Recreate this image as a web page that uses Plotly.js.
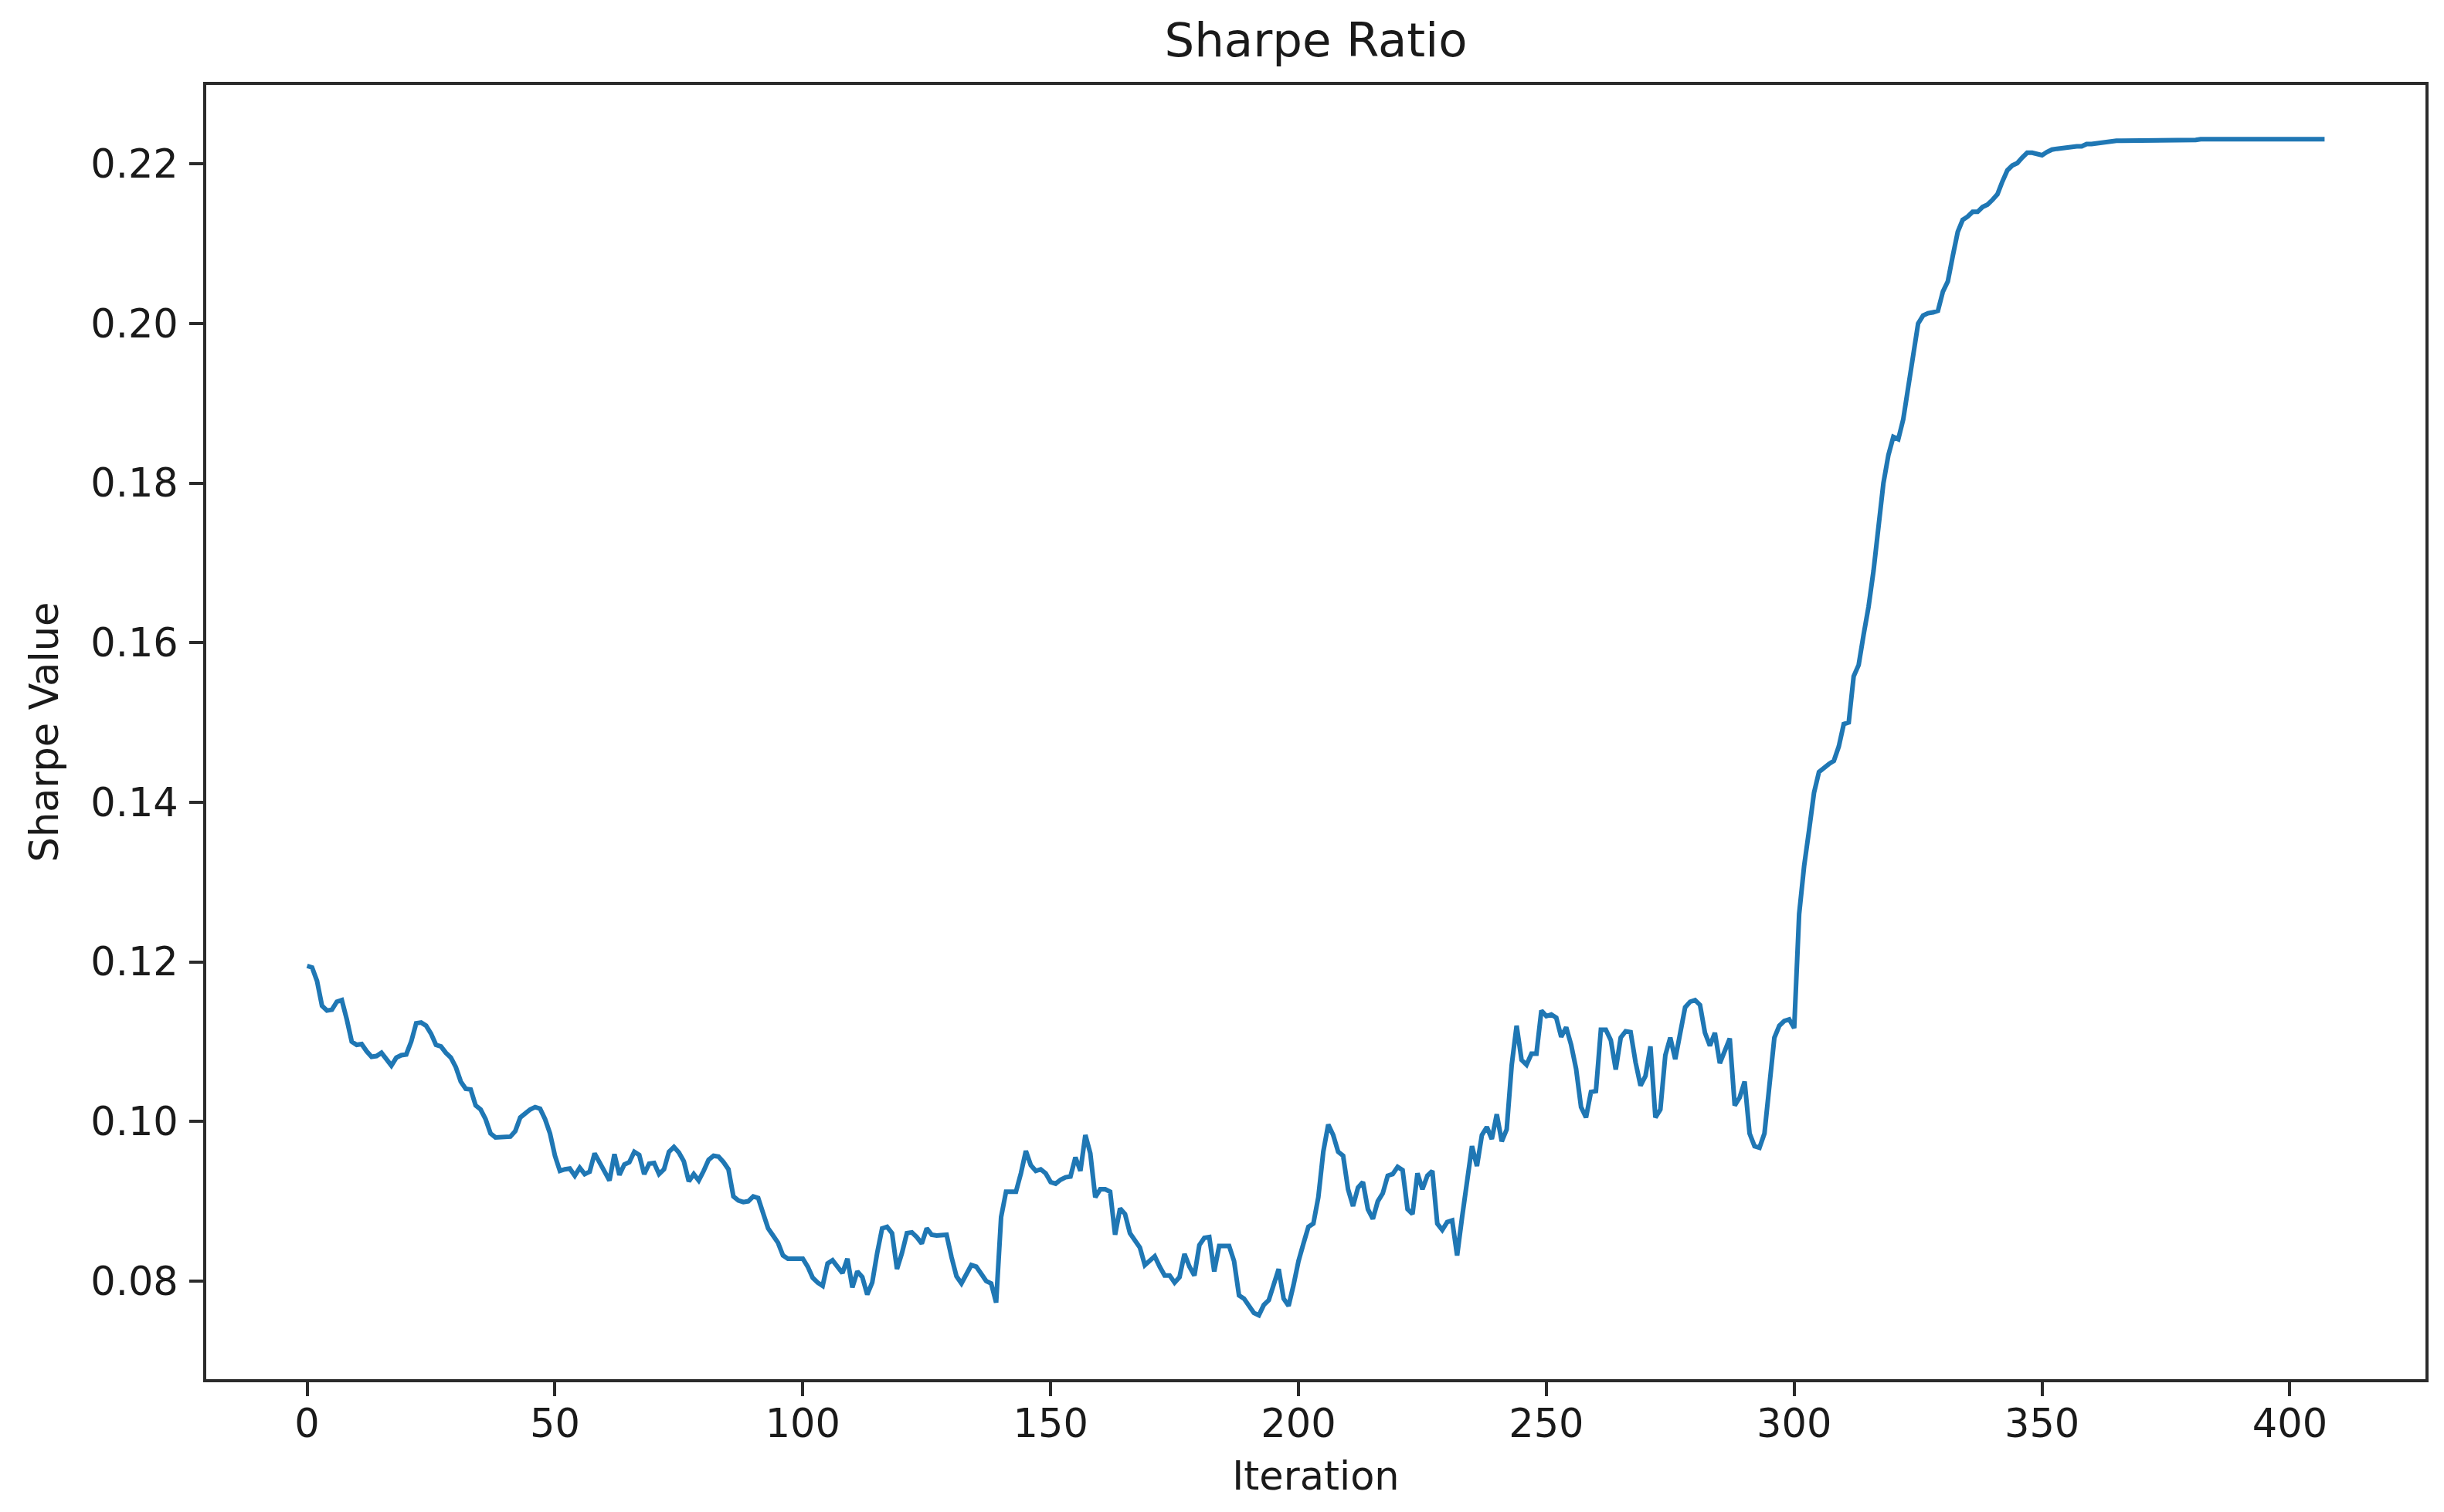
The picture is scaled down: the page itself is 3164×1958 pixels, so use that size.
<!DOCTYPE html>
<html>
<head>
<meta charset="utf-8">
<script src="https://cdn.plot.ly/plotly-3.0.1.min.js"></script>
<style>
  html, body { margin: 0; padding: 0; background: #ffffff; }
  #chart { width: 3164px; height: 1958px; }
</style>
</head>
<body>
<div id="chart"></div>
<script>
// Sharpe ratio per iteration
const sharpeValues = [
  0.1195, 0.1193, 0.1176, 0.1145, 0.1139, 0.1140, 0.1150, 0.1152, 0.1128, 0.1100,
  0.1096, 0.1097, 0.1088, 0.1081, 0.1082, 0.1086, 0.1078, 0.1070, 0.1080, 0.1083,
  0.1084, 0.1100, 0.1123, 0.1124, 0.1120, 0.1110, 0.1096, 0.1094, 0.1086, 0.1080,
  0.1068, 0.1050, 0.1041, 0.1040, 0.1020, 0.1015, 0.1003, 0.0985, 0.0980, 0.0980,
  0.0980, 0.0981, 0.0988, 0.1005, 0.1010, 0.1015, 0.1018, 0.1016, 0.1003, 0.0985,
  0.0957, 0.0938, 0.0940, 0.0941, 0.0932, 0.0942, 0.0934, 0.0937, 0.0960, 0.0948,
  0.0935, 0.0926, 0.0959, 0.0933, 0.0946, 0.0949, 0.0962, 0.0958, 0.0934, 0.0947,
  0.0948, 0.0934, 0.0940, 0.0962, 0.0968, 0.0961, 0.0950, 0.0925, 0.0934, 0.0926,
  0.0938, 0.0952, 0.0957, 0.0956, 0.0949, 0.0940, 0.0906, 0.0901, 0.0899, 0.0900,
  0.0906, 0.0904, 0.0885, 0.0866, 0.0857, 0.0848, 0.0832, 0.0828, 0.0828, 0.0828,
  0.0828, 0.0818, 0.0804, 0.0798, 0.0794, 0.0822, 0.0826, 0.0818, 0.0810, 0.0828,
  0.0792, 0.0812, 0.0805, 0.0783, 0.0798, 0.0835, 0.0866, 0.0868, 0.0860, 0.0815,
  0.0835, 0.0860, 0.0861, 0.0855, 0.0847, 0.0866, 0.0858, 0.0857, 0.0858, 0.0858,
  0.0830, 0.0806, 0.0797, 0.0808, 0.0820, 0.0818, 0.0808, 0.0800, 0.0797, 0.0773,
  0.0880, 0.0912, 0.0912, 0.0912, 0.0935, 0.0963, 0.0945, 0.0938, 0.0940, 0.0935,
  0.0924, 0.0922, 0.0927, 0.0930, 0.0931, 0.0955, 0.0938, 0.0983, 0.0960, 0.0905,
  0.0915, 0.0915, 0.0912, 0.0858, 0.0891, 0.0884, 0.0860, 0.0851, 0.0842, 0.0820,
  0.0825, 0.0831, 0.0818, 0.0807, 0.0807, 0.0798, 0.0805, 0.0834, 0.0818, 0.0807,
  0.0845, 0.0854, 0.0855, 0.0812, 0.0844, 0.0844, 0.0844, 0.0825, 0.0782, 0.0778,
  0.0770, 0.0760, 0.0757, 0.0770, 0.0776, 0.0795, 0.0815, 0.0778, 0.0769, 0.0795,
  0.0825, 0.0847, 0.0868, 0.0872, 0.0905, 0.0962, 0.0996, 0.0983, 0.0962, 0.0957,
  0.0915, 0.0894, 0.0917, 0.0924, 0.0890, 0.0878, 0.0900, 0.0910, 0.0932, 0.0934,
  0.0943, 0.0939, 0.0890, 0.0884, 0.0935, 0.0915, 0.0932, 0.0938, 0.0872, 0.0864,
  0.0874, 0.0876, 0.0832, 0.0880, 0.0925, 0.0969, 0.0944, 0.0983, 0.0993, 0.0978,
  0.1009, 0.0975, 0.0990, 0.1070, 0.1120, 0.1077, 0.1071, 0.1085, 0.1085, 0.1139,
  0.1132, 0.1134, 0.1130, 0.1106, 0.1118, 0.1096, 0.1066, 0.1018, 0.1005, 0.1037,
  0.1038, 0.1115, 0.1115, 0.1102, 0.1065, 0.1105, 0.1113, 0.1112, 0.1074, 0.1045,
  0.1057, 0.1094, 0.1005, 0.1015, 0.1083, 0.1105, 0.1078, 0.1113, 0.1143, 0.1150,
  0.1152, 0.1146, 0.1111, 0.1095, 0.1111, 0.1073, 0.1090, 0.1104, 0.1020, 0.1030,
  0.1050, 0.0985, 0.0969, 0.0967, 0.0985, 0.1050, 0.1105, 0.1120, 0.1126, 0.1128,
  0.1117, 0.1260, 0.1320, 0.1365, 0.1412, 0.1438, 0.1444, 0.1448, 0.1452, 0.1470,
  0.1498, 0.1500, 0.1558, 0.1572, 0.1610, 0.1645, 0.1690, 0.1751, 0.1800, 0.1835,
  0.1858, 0.1855, 0.1880, 0.1920, 0.1960, 0.2000, 0.2010, 0.2013, 0.2014, 0.2016,
  0.2040, 0.2053, 0.2085, 0.2115, 0.2130, 0.2134, 0.2140, 0.2140, 0.2146, 0.2149,
  0.2155, 0.2162, 0.2178, 0.2192, 0.2198, 0.2201, 0.2208, 0.2214, 0.2214, 0.2213,
  0.2211, 0.2215, 0.2218, 0.2219, 0.2220, 0.2221, 0.2222, 0.2222, 0.2222, 0.2225,
  0.2225, 0.2226, 0.2227, 0.2228, 0.2228, 0.2229, 0.2229, 0.2229, 0.2229, 0.2229,
  0.2230, 0.2230, 0.2230, 0.2230, 0.2230, 0.2230, 0.2230, 0.2230, 0.2230, 0.2230,
  0.2230, 0.2230, 0.2231, 0.2231, 0.2231, 0.2231, 0.2231, 0.2231, 0.2231, 0.2231,
  0.2231, 0.2231, 0.2231, 0.2231, 0.2231, 0.2231, 0.2231, 0.2231, 0.2231, 0.2231,
  0.2231, 0.2231, 0.2231, 0.2231, 0.2231, 0.2231, 0.2231, 0.2231
];
// iteration index of each value (0, 1, 2, ...)
const iterations = sharpeValues.map((_, i) => i);

const xTickVals = [0, 50, 100, 150, 200, 250, 300, 350, 400];
const yTickVals = [0.08, 0.10, 0.12, 0.14, 0.16, 0.18, 0.20, 0.22];
const yTickText = ["0.08", "0.10", "0.12", "0.14", "0.16", "0.18", "0.20", "0.22"];

const chartTitle = "Sharpe Ratio";
const xTitle = "Iteration";
const yTitle = "Sharpe Value";

const FONT = "DejaVu Sans, Liberation Sans, sans-serif";
const AXIS_COLOR = "#2b2b2b";
const TEXT_COLOR = "#1a1a1a";

const trace = {
  x: iterations,
  y: sharpeValues,
  type: "scatter",
  mode: "lines",
  line: { color: "#1f77b4", width: 6 },
  hoverinfo: "x+y",
  showlegend: false
};

const commonAxis = {
  showgrid: false,
  zeroline: false,
  showline: true,
  mirror: true,
  linecolor: AXIS_COLOR,
  linewidth: 4,
  ticks: "outside",
  ticklen: 18,
  tickwidth: 4,
  tickcolor: AXIS_COLOR,
  tickfont: { family: FONT, size: 51, color: TEXT_COLOR },
  automargin: false
};

const layout = {
  width: 3164,
  height: 1958,
  paper_bgcolor: "#ffffff",
  plot_bgcolor: "#ffffff",
  margin: { l: 267, r: 24, t: 110, b: 172, pad: 0 },
  font: { family: FONT, color: TEXT_COLOR },
  title: {
    text: chartTitle,
    font: { family: FONT, size: 61, color: TEXT_COLOR },
    x: 0.5, xref: "paper", xanchor: "center",
    y: 1 - 52 / 1958, yref: "container", yanchor: "middle"
  },
  xaxis: Object.assign({}, commonAxis, {
    range: [-20.35, 427.35],
    tickmode: "array",
    tickvals: xTickVals,
    ticklabelstandoff: -8,
    title: { text: xTitle, font: { family: FONT, size: 51, color: TEXT_COLOR }, standoff: 22 }
  }),
  yaxis: Object.assign({}, commonAxis, {
    range: [0.0677, 0.2299],
    tickmode: "array",
    tickvals: yTickVals,
    ticktext: yTickText,
    ticklabelstandoff: 4,
    title: { text: yTitle, font: { family: FONT, size: 51, color: TEXT_COLOR }, standoff: 26 }
  })
};

Plotly.newPlot("chart", [trace], layout, { staticPlot: true, displayModeBar: false });
</script>
</body>
</html>
